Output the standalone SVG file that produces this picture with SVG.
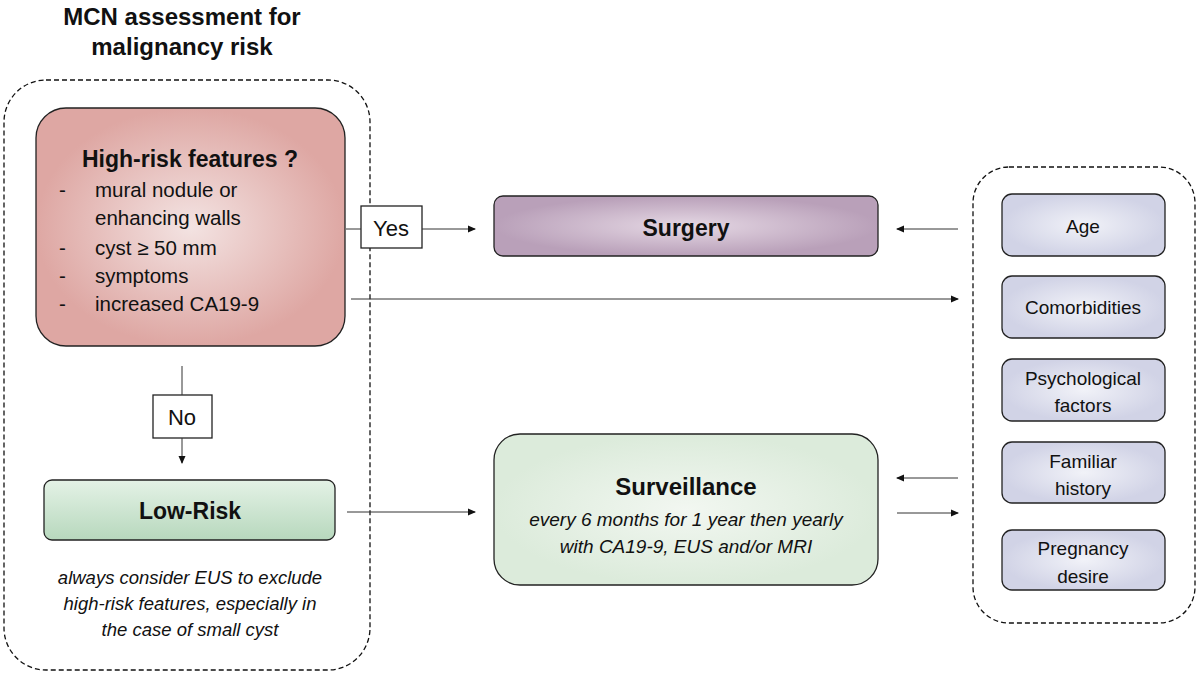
<svg xmlns="http://www.w3.org/2000/svg" width="1200" height="674" viewBox="0 0 1200 674">
<style>
text{font-family:"Liberation Sans",Arial,sans-serif;fill:#111}
.b{font-weight:bold}
.i{font-style:italic}
.dash{fill:none;stroke:#111;stroke-width:1.3;stroke-dasharray:5,3}
.node{stroke:#222;stroke-width:1.3}
.c line{stroke:#333;stroke-width:1}
</style>
<defs>
<radialGradient id="gr"><stop offset="0" stop-color="#f3e3e2"/><stop offset="1" stop-color="#dea7a3"/></radialGradient>
<radialGradient id="gp"><stop offset="0" stop-color="#e5d8e4"/><stop offset="1" stop-color="#b9a0b9"/></radialGradient>
<radialGradient id="gg"><stop offset="0" stop-color="#f2f7f1"/><stop offset="1" stop-color="#dcebdb"/></radialGradient>
<linearGradient id="gl" x1="0" y1="0" x2="0" y2="1"><stop offset="0" stop-color="#e4f2e6"/><stop offset="1" stop-color="#b7d8bd"/></linearGradient>
<radialGradient id="gb"><stop offset="0" stop-color="#f1f2f8"/><stop offset="1" stop-color="#d1d3e6"/></radialGradient>
<radialGradient id="gc" cx="0.5" cy="0.5" r="0.7"><stop offset="0" stop-color="#ffffff"/><stop offset="1" stop-color="#ececec"/></radialGradient>
<marker id="a" markerWidth="8" markerHeight="8" refX="7" refY="4" orient="auto" markerUnits="userSpaceOnUse"><path d="M0,0.5 L8,4 L0,7.5z" fill="#111"/></marker>
</defs>
<rect width="1200" height="674" fill="#fff"/>
<g id="title"><text class="b" x="182" y="25" text-anchor="middle" font-size="24">MCN assessment for</text><text class="b" x="182" y="55" text-anchor="middle" font-size="24">malignancy risk</text></g>
<g id="left-container"><rect x="4" y="80" width="366" height="590" rx="42" fill="url(#gc)" class="dash"/></g>
<g id="high-risk"><rect x="36" y="108" width="309" height="238" rx="30" fill="url(#gr)" class="node"/>
<text class="b" x="190" y="167" text-anchor="middle" font-size="23">High-risk features ?</text>
<g font-size="20.5"><text x="59" y="197">-</text><text x="95" y="197">mural nodule or</text><text x="95" y="225">enhancing walls</text>
<text x="59" y="255">-</text><text x="95" y="255">cyst ≥ 50 mm</text><text x="59" y="283">-</text><text x="95" y="283">symptoms</text><text x="59" y="311">-</text><text x="95" y="311">increased CA19-9</text></g></g>
<g id="yes"><rect x="361" y="206" width="61" height="42" fill="#fff" class="node"/><text x="391" y="236" text-anchor="middle" font-size="22">Yes</text></g>
<g id="no"><rect x="153" y="395" width="59" height="43" fill="#fff" class="node"/><text x="182" y="425" text-anchor="middle" font-size="22">No</text></g>
<g id="low-risk"><rect x="44" y="480" width="291" height="60" rx="8" fill="url(#gl)" class="node"/><text class="b" x="190" y="519" text-anchor="middle" font-size="23">Low-Risk</text></g>
<g id="note" class="i" font-size="18.5"><text x="190" y="584" text-anchor="middle">always consider EUS to exclude</text><text x="190" y="610" text-anchor="middle">high-risk features, especially in</text><text x="190" y="636" text-anchor="middle">the case of small cyst</text></g>
<g id="surgery"><rect x="494" y="196" width="384" height="60" rx="9" fill="url(#gp)" class="node"/><text class="b" x="686" y="236" text-anchor="middle" font-size="23">Surgery</text></g>
<g id="surveillance"><rect x="494" y="434" width="384" height="151" rx="26" fill="url(#gg)" class="node"/><text class="b" x="686" y="495" text-anchor="middle" font-size="24">Surveillance</text>
<text class="i" x="686" y="526" text-anchor="middle" font-size="19">every 6 months for 1 year then yearly</text><text class="i" x="686" y="553" text-anchor="middle" font-size="19">with CA19-9, EUS and/or MRI</text></g>
<g id="right-container"><rect x="973" y="167" width="222" height="456" rx="36" fill="none" class="dash"/></g>
<g font-size="19">
<g id="age"><rect x="1002" y="194" width="163" height="62" rx="10" fill="url(#gb)" class="node"/><text x="1083" y="233" text-anchor="middle">Age</text></g>
<g id="comorb"><rect x="1002" y="276" width="163" height="62" rx="10" fill="url(#gb)" class="node"/><text x="1083" y="314" text-anchor="middle">Comorbidities</text></g>
<g id="psych"><rect x="1002" y="359" width="163" height="62" rx="10" fill="url(#gb)" class="node"/><text x="1083" y="385" text-anchor="middle">Psychological</text><text x="1083" y="412" text-anchor="middle">factors</text></g>
<g id="familiar"><rect x="1002" y="442" width="163" height="61" rx="10" fill="url(#gb)" class="node"/><text x="1083" y="468" text-anchor="middle">Familiar</text><text x="1083" y="495" text-anchor="middle">history</text></g>
<g id="pregnancy"><rect x="1002" y="530" width="163" height="60" rx="10" fill="url(#gb)" class="node"/><text x="1083" y="555" text-anchor="middle">Pregnancy</text><text x="1083" y="583" text-anchor="middle">desire</text></g>
</g>
<g id="connectors" class="c">
<line x1="346" y1="229" x2="361" y2="229"/>
<line x1="422" y1="229" x2="475" y2="229" marker-end="url(#a)"/>
<line x1="958" y1="229" x2="897" y2="229" marker-end="url(#a)"/>
<line x1="351" y1="299" x2="958" y2="299" marker-end="url(#a)"/>
<line x1="182" y1="366" x2="182" y2="395"/>
<line x1="182" y1="438" x2="182" y2="463" marker-end="url(#a)"/>
<line x1="347" y1="512" x2="475" y2="512" marker-end="url(#a)"/>
<line x1="958" y1="478" x2="897" y2="478" marker-end="url(#a)"/>
<line x1="897" y1="513" x2="958" y2="513" marker-end="url(#a)"/>
</g>
</svg>
